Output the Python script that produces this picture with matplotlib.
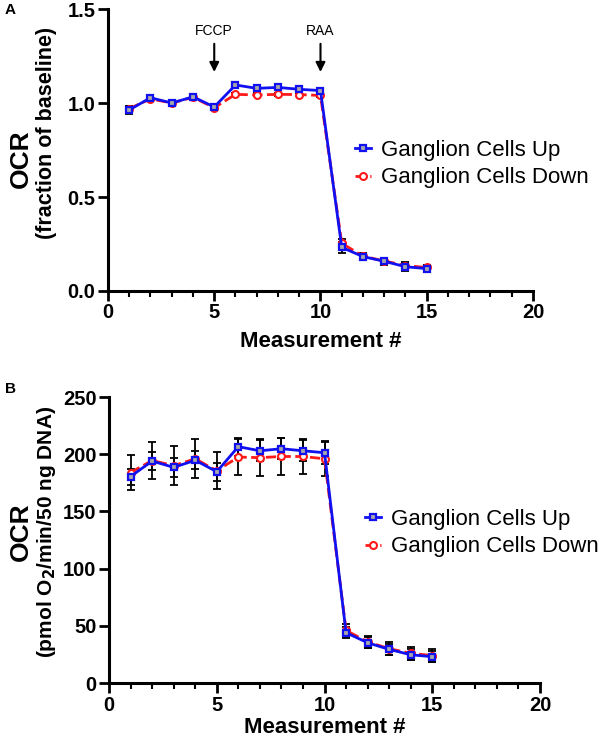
import matplotlib
matplotlib.use("Agg")
import matplotlib.pyplot as plt
from matplotlib.ticker import MultipleLocator

plt.rcParams['font.family'] = ['Liberation Sans', 'DejaVu Sans']

measurement = [1, 2, 3, 4, 5, 6, 7, 8, 9, 10, 11, 12, 13, 14, 15]

up_A = [0.963, 1.028, 1.000, 1.033, 0.979, 1.096, 1.078, 1.083, 1.073, 1.066, 0.232, 0.183, 0.158, 0.129, 0.119]
down_A = [0.970, 1.022, 1.000, 1.030, 0.975, 1.046, 1.043, 1.046, 1.045, 1.040, 0.254, 0.185, 0.160, 0.135, 0.125]
err_up_A = [0.02, 0.01, 0.008, 0.008, 0.01, 0.008, 0.008, 0.008, 0.008, 0.01, 0.03, 0.015, 0.02, 0.025, 0.02]
err_down_A = [0.015, 0.008, 0.008, 0.008, 0.008, 0.008, 0.008, 0.008, 0.008, 0.008, 0.025, 0.015, 0.015, 0.015, 0.015]

up_B = [180.5, 194.0, 188.5, 194.7, 184.7, 206.6, 203.0, 204.8, 203.0, 201.3, 44.0, 35.2, 29.4, 24.7, 23.0]
down_B = [184.0, 194.5, 190.0, 196.0, 185.5, 197.5, 197.0, 198.0, 198.0, 196.0, 46.0, 36.0, 30.0, 26.0, 24.0]
err_up_B = [7, 8, 8, 8, 8, 8, 9, 9, 9, 10, 5, 5, 5, 5, 5]
err_down_B = [15, 16, 17, 17, 16, 16, 16, 16, 15, 15, 6, 5.5, 5.5, 5.5, 5.5]

labels = ["Ganglion Cells Up", "Ganglion Cells Down"]
injections = [(5, "FCCP"), (10, "RAA")]

BLUE = "#1010f0"
RED = "#ff1a1a"
GRAY = "#a9a9a9"

fig = plt.figure(figsize=(6.0, 7.45), dpi=100)
axA = fig.add_axes([0.180, 0.6094, 0.7083, 0.3785])
axB = fig.add_axes([0.1817, 0.0832, 0.7183, 0.3839])


def draw(ax, up, down, eup, edown, lpad):
    ax.errorbar(measurement, down, yerr=edown, fmt='none', ecolor='black',
                elinewidth=1.3, capsize=3, capthick=1.3, zorder=2)
    ax.errorbar(measurement, up, yerr=eup, fmt='none', ecolor='black',
                elinewidth=1.3, capsize=3, capthick=1.3, zorder=2)
    ax.plot(measurement, down, linestyle='--', color=RED, linewidth=2,
            marker='o', markersize=5, markerfacecolor='white',
            markeredgecolor=RED, markeredgewidth=1.5, label=labels[1], zorder=3)
    ax.plot(measurement, up, linestyle='-', color=BLUE, linewidth=2,
            marker='s', markersize=5, markerfacecolor=GRAY,
            markeredgecolor=BLUE, markeredgewidth=1.6, label=labels[0], zorder=4)
    for s in ['top', 'right']:
        ax.spines[s].set_visible(False)
    for s in ['left', 'bottom']:
        ax.spines[s].set_linewidth(2.2)
    ax.set_xlim(0, 20)
    ax.xaxis.set_major_locator(MultipleLocator(5))
    ax.xaxis.set_minor_locator(MultipleLocator(1))
    ax.tick_params(axis='both', which='major', length=7, width=2, labelsize=14.5, pad=2)
    ax.tick_params(axis='x', which='minor', length=4, width=1.5)
    ax.set_xlabel("Measurement #", fontsize=16, fontweight='bold', labelpad=lpad)


draw(axA, up_A, down_A, err_up_A, err_down_A, 6)
axA.set_ylim(0, 1.5)
axA.set_yticks([0.0, 0.5, 1.0, 1.5])
axA.set_yticklabels(["0.0", "0.5", "1.0", "1.5"], fontweight='bold')
axA.set_xticks([0, 5, 10, 15, 20])
axA.set_xticklabels(["0", "5", "10", "15", "20"], fontweight='bold')

draw(axB, up_B, down_B, err_up_B, err_down_B, 2)
axB.set_ylim(0, 250)
axB.set_yticks([0, 50, 100, 150, 200, 250])
axB.set_yticklabels(["0", "50", "100", "150", "200", "250"], fontweight='bold')
axB.set_xticks([0, 5, 10, 15, 20])
axB.set_xticklabels(["0", "5", "10", "15", "20"], fontweight='bold')

# y labels (two sizes)
fig.text(0.035, 0.787, "OCR", rotation=90, fontsize=19, fontweight='bold',
         ha='center', va='center')
fig.text(0.077, 0.8215, "(fraction of baseline)", rotation=90, fontsize=15.5,
         fontweight='bold', ha='center', va='center')
fig.text(0.035, 0.286, "OCR", rotation=90, fontsize=19, fontweight='bold',
         ha='center', va='center')
fig.text(0.077, 0.286, r"(pmol O$_\mathbf{2}$/min/50 ng DNA)", rotation=90, fontsize=15,
         fontweight='bold', ha='center', va='center')

# injection arrows
for xpos, name in injections:
    axA.annotate("", xy=(xpos, 1.165), xytext=(xpos, 1.315),
                 arrowprops=dict(arrowstyle='-|>', color='black', lw=1.5,
                                 mutation_scale=14, shrinkA=0, shrinkB=0))
    axA.text(xpos, 1.385, name, ha='center', va='center', fontsize=10)

# legends
for ax, anchor in [(axA, (0.592, 0.7799)), (axB, (0.609, 0.2846))]:
    h, l = ax.get_legend_handles_labels()
    ax.legend(h[::-1], l[::-1], loc='center left', bbox_to_anchor=anchor,
              bbox_transform=fig.transFigure, frameon=False, fontsize=16,
              handlelength=0.7, handletextpad=0.45, borderpad=0,
              borderaxespad=0, labelspacing=0.3, markerscale=1.0)

# panel letters
fig.text(0.008, 0.986, "A", fontsize=11, fontweight='bold', ha='left', va='center')
fig.text(0.008, 0.478, "B", fontsize=11, fontweight='bold', ha='left', va='center')

fig.savefig("out.png", dpi=100)
